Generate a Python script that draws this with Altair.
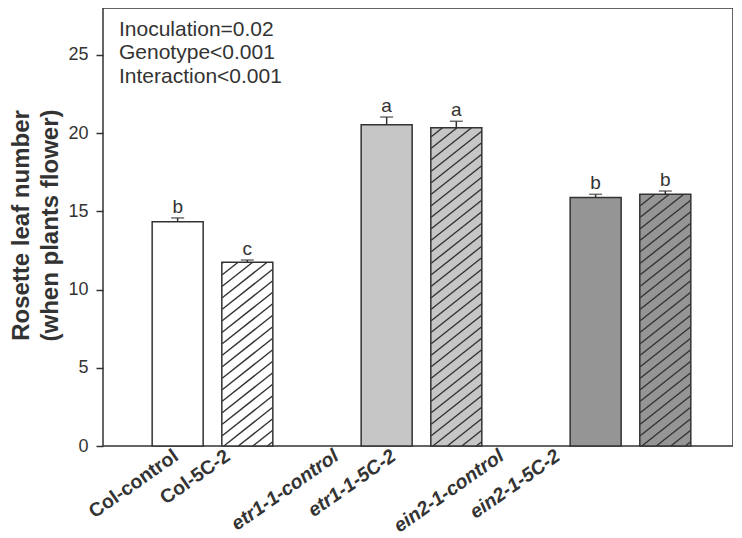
import altair as alt
import pandas as pd

# ---- data ----
groups = ["Col-control", "Col-5C-2", "etr1-1-control", "etr1-1-5C-2", "ein2-1-control", "ein2-1-5C-2"]
positions = [1, 2, 4, 5, 7, 8]
means = [14.33, 11.75, 20.53, 20.34, 15.88, 16.09]
sems = [0.25, 0.14, 0.50, 0.42, 0.21, 0.21]
letters = ["b", "c", "a", "a", "b", "b"]
fills = ["#ffffff", "#ffffff", "#c6c6c6", "#c6c6c6", "#959595", "#959595"]
hatched = [False, True, False, True, False, True]
italic = [False, False, True, True, True, True]
label_pos = [1.03, 1.77, 3.33, 4.15, 5.70, 6.51]
stats_lines = ["Inoculation=0.02", "Genotype<0.001", "Interaction<0.001"]
y_ticks = [0, 5, 10, 15, 20, 25]

# ---- geometry ----
W, H = 630, 438
X_DOMAIN = [0, 8.9]
Y_DOMAIN = [0, 28]
BAR_PX = 51
INK = "#333333"
FONT = "Liberation Sans"

sx = W / (X_DOMAIN[1] - X_DOMAIN[0])
sy = H / (Y_DOMAIN[1] - Y_DOMAIN[0])
half_w = BAR_PX / 2 / sx

df = pd.DataFrame({
    "group": groups, "pos": positions, "mean": means, "sem": sems,
    "letter": letters, "fill": fills, "italic": italic, "lpos": label_pos,
})
df["top"] = df["mean"] + df["sem"]

# hatch segments derived from hatched bars
slope, gap = 0.78, 11.5
segs = []
for p, m, h in zip(positions, means, hatched):
    if not h:
        continue
    wpx, hpx = BAR_PX, m * sy
    x0 = p - half_w
    c = -slope * wpx + 4
    while c < hpx:
        ulo = max(0.0, -c / slope)
        uhi = min(wpx, (hpx - c) / slope)
        if uhi > ulo:
            segs.append({"x": x0 + ulo / sx, "y": (slope * ulo + c) / sy,
                         "x2": x0 + uhi / sx, "y2": (slope * uhi + c) / sy})
        c += gap
hatch_df = pd.DataFrame(segs)

xs = alt.Scale(domain=X_DOMAIN, nice=False, zero=False)
ys = alt.Scale(domain=Y_DOMAIN, nice=False)

base = alt.Chart(df)

bars = base.mark_bar(size=BAR_PX, strokeWidth=0).encode(
    x=alt.X("pos:Q", scale=xs, axis=None),
    y=alt.Y("mean:Q", scale=ys, axis=alt.Axis(
        values=y_ticks, title=["Rosette leaf number", "(when plants flower)"],
        titleFontSize=24, titleFontWeight="bold", titleColor=INK, titleFont=FONT,
        titleAngle=270, titleBaseline="middle", titleAlign="center",
        titleX=-82, titleY=H / 2 - 2, titleLineHeight=29,
        labelFontSize=18, labelColor=INK, labelFont=FONT, labelPadding=8,
        tickSize=7, tickColor=INK, tickWidth=1.5, domain=False, grid=False)),
    fill=alt.Fill("fill:N", scale=None),
)

hatch = alt.Chart(hatch_df).mark_rule(color=INK, strokeWidth=1.4).encode(
    x=alt.X("x:Q", scale=xs), y=alt.Y("y:Q", scale=ys),
    x2="x2:Q", y2="y2:Q",
)

outline = base.mark_bar(size=BAR_PX, fillOpacity=0, stroke=INK, strokeWidth=1.5).encode(
    x=alt.X("pos:Q", scale=xs), y=alt.Y("mean:Q", scale=ys),
)

err = base.mark_rule(color=INK, strokeWidth=1.5).encode(
    x=alt.X("pos:Q", scale=xs), y=alt.Y("mean:Q", scale=ys), y2="top:Q",
)
cap = base.mark_tick(orient="horizontal", size=13, thickness=1.5, color=INK).encode(
    x=alt.X("pos:Q", scale=xs), y=alt.Y("top:Q", scale=ys),
)

letters_txt = base.mark_text(fontSize=19, font=FONT, color=INK, baseline="alphabetic", dy=-5).encode(
    x=alt.X("pos:Q", scale=xs), y=alt.Y("top:Q", scale=ys), text="letter:N",
)

lab_kw = dict(fontSize=19.5, font=FONT, fontWeight="bold", color=INK, angle=325,
              align="right", baseline="alphabetic")
labels_plain = base.transform_filter("!datum.italic").mark_text(**lab_kw).encode(
    x=alt.X("lpos:Q", scale=xs), y=alt.value(H + 13), text="group:N",
)
labels_ital = base.transform_filter("datum.italic").mark_text(fontStyle="italic", **lab_kw).encode(
    x=alt.X("lpos:Q", scale=xs), y=alt.value(H + 13), text="group:N",
)

stats = alt.Chart(pd.DataFrame({"k": [0]})).mark_text(
    align="left", baseline="alphabetic", fontSize=21, font=FONT, color=INK, lineHeight=23.3,
).encode(x=alt.value(16), y=alt.value(28), text=alt.value(stats_lines))

chart = alt.layer(
    bars, hatch, outline, err, cap, letters_txt, labels_plain, labels_ital, stats
).properties(
    width=W, height=H,
    autosize=alt.AutoSizeParams(type="none"),
    padding={"left": 95, "top": 0, "right": 0, "bottom": 92},
).configure_view(stroke=INK, strokeWidth=1.5)

chart.save("out.html", embed_options={"renderer": "svg", "actions": False})
